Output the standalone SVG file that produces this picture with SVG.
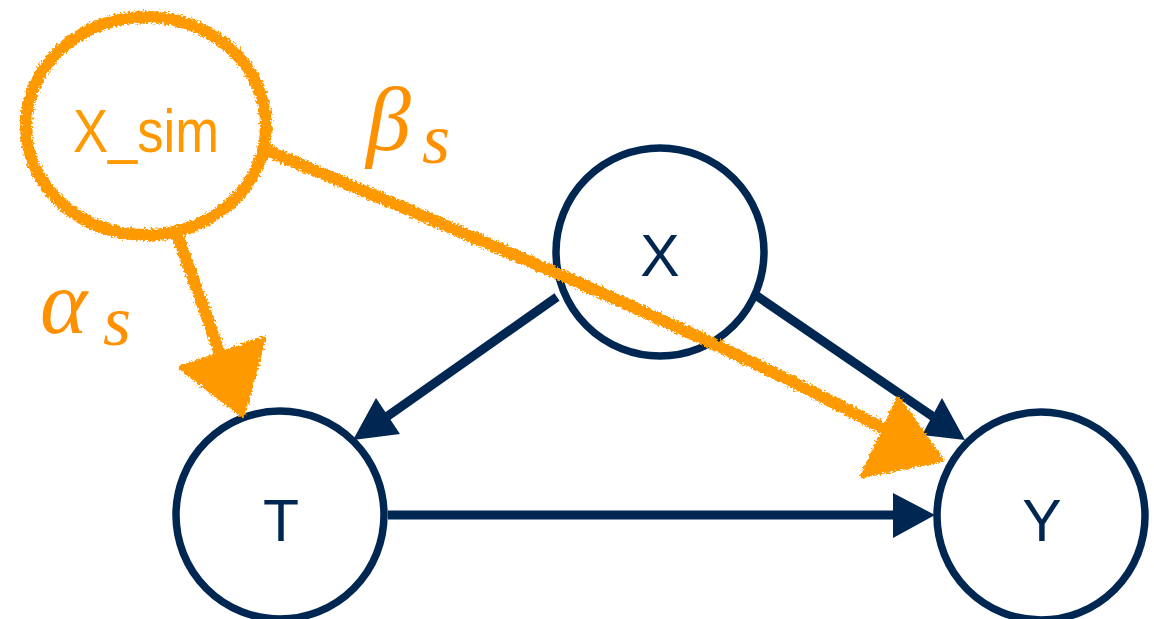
<svg xmlns="http://www.w3.org/2000/svg" width="1154" height="619" viewBox="0 0 1154 619">
<style>
.node{fill:#fff;stroke:#002652;stroke-width:7.5}
.lbl{font-family:"Liberation Sans",Arial,sans-serif;font-size:59px;fill:#002652;text-anchor:middle}
.edge{stroke:#002652;stroke-width:9;fill:none}
.head{fill:#002652}
.sk{stroke:#FF9900;stroke-width:12;fill:none;stroke-linecap:round}
.skh{fill:#FF9900;stroke:#FF9900;stroke-width:4;stroke-linejoin:round}
.math{font-family:"Liberation Serif","Times New Roman",serif;font-style:italic;fill:#FF9100}
</style>
<defs>
<filter id="rough" x="-10%" y="-10%" width="120%" height="120%">
<feTurbulence type="fractalNoise" baseFrequency="0.45" numOctaves="2" seed="3" result="n"/>
<feDisplacementMap in="SourceGraphic" in2="n" scale="7" xChannelSelector="R" yChannelSelector="G"/>
</filter>
</defs>
<rect width="1154" height="619" fill="#fff"/>
<g id="edges">
<line class="edge" x1="388" y1="515" x2="896" y2="515"/>
<polygon class="head" points="935,515 893,493 893,538"/>
<line class="edge" x1="557" y1="297" x2="385" y2="418"/>
<polygon class="head" points="353,440 376,398 400,434"/>
<line class="edge" x1="757" y1="296" x2="935" y2="418"/>
<polygon class="head" points="965,440 942,398 922,435"/>
</g>
<g id="node-X"><circle class="node" cx="660" cy="252" r="104"/><text class="lbl" x="660" y="276">X</text></g>
<g id="node-T"><circle class="node" cx="280" cy="515" r="104"/><text class="lbl" x="281" y="541">T</text></g>
<g id="node-Y"><circle class="node" cx="1041" cy="516" r="104"/><text class="lbl" x="1042" y="541">Y</text></g>
<g id="sim-edges" filter="url(#rough)">
<path class="sk" d="M176,232 C190,270 205,310 222,360"/>
<polygon class="skh" points="243,416 180,368 264,338"/>
<path class="sk" d="M266,150 C480,240 700,330 890,432"/>
<polygon class="skh" points="942,460 898,398 862,476"/>
</g>
<g id="node-Xsim">
<ellipse class="sk" cx="146" cy="126" rx="120" ry="109" filter="url(#rough)"/>
<text x="146" y="152" font-family="Liberation Sans,Arial,sans-serif" font-size="62" fill="#FF9900" text-anchor="middle" textLength="146" lengthAdjust="spacingAndGlyphs">X_sim</text>
</g>
<g id="labels">
<text class="math" x="40" y="333" font-size="90">α</text>
<text class="math" x="103" y="345" font-size="72">s</text>
<text class="math" x="366" y="150" font-size="90">β</text>
<text class="math" x="422" y="163" font-size="72">s</text>
</g>
</svg>
